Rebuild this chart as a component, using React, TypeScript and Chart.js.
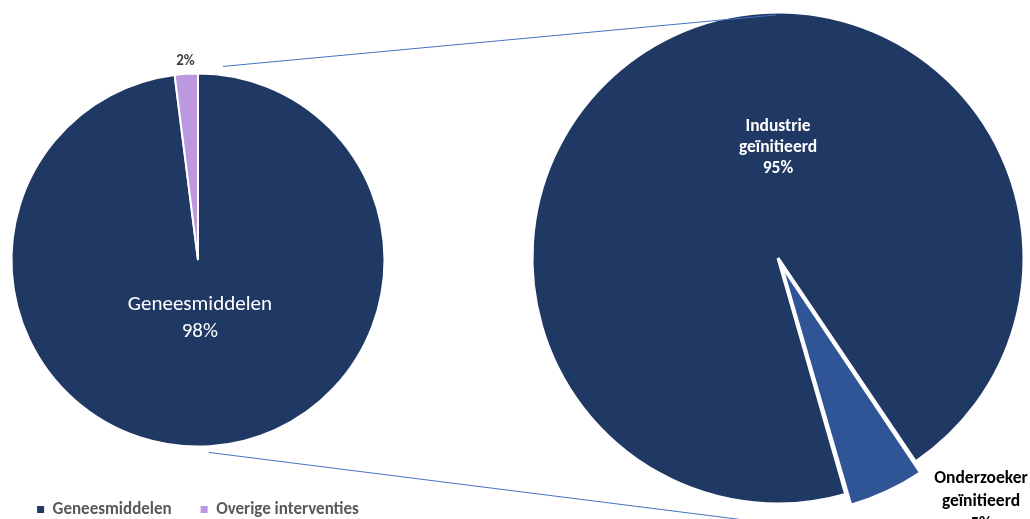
import React, { useEffect, useRef } from "react";
import { Chart, registerables } from "chart.js";

Chart.register(...registerables);

// ---- data ----
const mainCategories = ["Geneesmiddelen", "Overige interventies"];
const mainValues = [98, 2];
const mainLabelLines = [["Geneesmiddelen", "98%"], ["2%"]];

const subCategories = ["Industrie geïnitieerd", "Onderzoeker geïnitieerd"];
const subValues = [95, 5];
const subLabelLines = [
  ["Industrie", "geïnitieerd", "95%"],
  ["Onderzoeker", "geïnitieerd", "5%"],
];

// ---- styles ----
const FONT = "Calibri, Carlito, Lato, 'Open Sans', sans-serif";
const NAVY = "#203864";
const PURPLE = "#BB98DF";
const BLUE = "#2F5597";
const CONNECTOR = "#4472C4";

type LabelStyle = {
  dx: number;
  dy: number;
  size: number;
  weight: string;
  color: string;
  lh: number;
};

function makeLabelPlugin(lines: string[][], styles: LabelStyle[]) {
  return {
    id: "sliceLabels",
    afterDatasetsDraw(chart: any) {
      const ctx = chart.ctx;
      const meta = chart.getDatasetMeta(0);
      meta.data.forEach((arc: any, i: number) => {
        const s = styles[i];
        const txt = lines[i];
        if (!s || !txt) return;
        const p = arc.getProps(["x", "y", "startAngle", "endAngle", "outerRadius"], true);
        const mid = (p.startAngle + p.endAngle) / 2;
        const off = (arc.options && arc.options.offset) || 0;
        const cx = p.x + Math.cos(mid) * off;
        const cy = p.y + Math.sin(mid) * off;
        const ax = cx + s.dx * p.outerRadius;
        const ay = cy + s.dy * p.outerRadius;
        ctx.save();
        ctx.fillStyle = s.color;
        ctx.font = `${s.weight} ${s.size}px ${FONT}`;
        ctx.textAlign = "center";
        ctx.textBaseline = "middle";
        const n = txt.length;
        txt.forEach((t, k) => ctx.fillText(t, ax, ay + (k - (n - 1) / 2) * s.lh));
        ctx.restore();
      });
    },
  };
}

function makeConnectorPlugin(getLeft: () => any) {
  return {
    id: "connectors",
    afterDatasetsDraw(chart: any) {
      const left = getLeft();
      if (!left) return;
      const la = left.getDatasetMeta(0).data[0];
      const ra = chart.getDatasetMeta(0).data[0];
      if (!la || !ra) return;
      // translate left-chart coordinates into this canvas
      const lRect = left.canvas.getBoundingClientRect();
      const rRect = chart.canvas.getBoundingClientRect();
      const shiftX = lRect.left - rRect.left;
      const shiftY = lRect.top - rRect.top;
      const lx = la.x + shiftX, ly = la.y + shiftY, lr = la.outerRadius;
      const rx = ra.x, ry = ra.y, rr = ra.outerRadius;
      const ctx = chart.ctx;
      ctx.save();
      ctx.strokeStyle = CONNECTOR;
      ctx.lineWidth = 1;
      ctx.beginPath();
      ctx.moveTo(lx + lr * 0.134, ly - lr * 1.038);
      ctx.lineTo(rx - rr * 0.008, ry - rr * 0.988);
      ctx.moveTo(lx + lr * 0.059, ly + lr * 1.032);
      ctx.lineTo(rx - rr * 0.073, ry + rr * 1.073);
      ctx.stroke();
      ctx.restore();
    },
  };
}

export default function App() {
  const leftRef = useRef<HTMLCanvasElement>(null);
  const rightRef = useRef<HTMLCanvasElement>(null);

  useEffect(() => {
    if (!leftRef.current || !rightRef.current) return;

    const leftChart: any = new Chart(leftRef.current, {
      type: "pie",
      data: {
        labels: mainCategories,
        datasets: [
          {
            data: mainValues,
            backgroundColor: [NAVY, PURPLE],
            borderColor: "#ffffff",
            borderWidth: 2,
          },
        ],
      },
      options: {
        responsive: false,
        animation: false,
        radius: 186.5,
        rotation: 0,
        layout: { padding: { top: 48, left: 0, right: 0, bottom: 0 } },
        plugins: {
          tooltip: { enabled: false },
          legend: {
            display: true,
            position: "bottom",
            labels: {
              usePointStyle: true,
              pointStyle: "rect",
              boxWidth: 7,
              boxHeight: 7,
              padding: 29,
              color: "#595959",
              font: { family: FONT, size: 17, weight: "bold" },
              generateLabels: (chart: any) => {
                const base = (Chart as any).overrides.pie.plugins.legend.labels.generateLabels(chart);
                return base.map((it: any) => ({ ...it, lineWidth: 0, strokeStyle: "rgba(0,0,0,0)" }));
              },
            },
          },
        },
      } as any,
      plugins: [
        makeLabelPlugin(mainLabelLines, [
          { dx: 0.01, dy: 0.31, size: 21, weight: "normal", color: "#ffffff", lh: 27 },
          { dx: -0.067, dy: -1.065, size: 15, weight: "bold", color: "#404040", lh: 16 },
        ]),
      ],
    });

    const rightChart: any = new Chart(rightRef.current, {
      type: "pie",
      data: {
        labels: subCategories,
        datasets: [
          {
            data: subValues,
            backgroundColor: [NAVY, BLUE],
            borderColor: "#ffffff",
            borderWidth: 3,
            offset: [0, 28],
          },
        ],
      },
      options: {
        responsive: false,
        animation: false,
        radius: 246,
        rotation: 164,
        layout: { padding: { left: 526, top: 0, right: 0, bottom: 3 } },
        plugins: {
          tooltip: { enabled: false },
          legend: { display: false },
        },
      } as any,
      plugins: [
        makeLabelPlugin(subLabelLines, [
          { dx: 0, dy: -0.449, size: 17.5, weight: "bold", color: "#ffffff", lh: 21 },
          { dx: 0.777, dy: 0.889, size: 17.5, weight: "bold", color: "#000000", lh: 23 },
        ]),
        makeConnectorPlugin(() => leftChart),
      ],
    });

    return () => {
      rightChart.destroy();
      leftChart.destroy();
    };
  }, []);

  return (
    <div
      style={{
        position: "absolute",
        left: 0,
        top: 0,
        width: 1030,
        height: 519,
        overflow: "hidden",
        background: "#ffffff",
      }}
    >
      <canvas
        ref={leftRef}
        width={440}
        height={528}
        style={{ position: "absolute", left: -22, top: 0, width: 440, height: 528 }}
      />
      <canvas
        ref={rightRef}
        width={1030}
        height={519}
        style={{ position: "absolute", left: 0, top: 0, width: 1030, height: 519 }}
      />
    </div>
  );
}
